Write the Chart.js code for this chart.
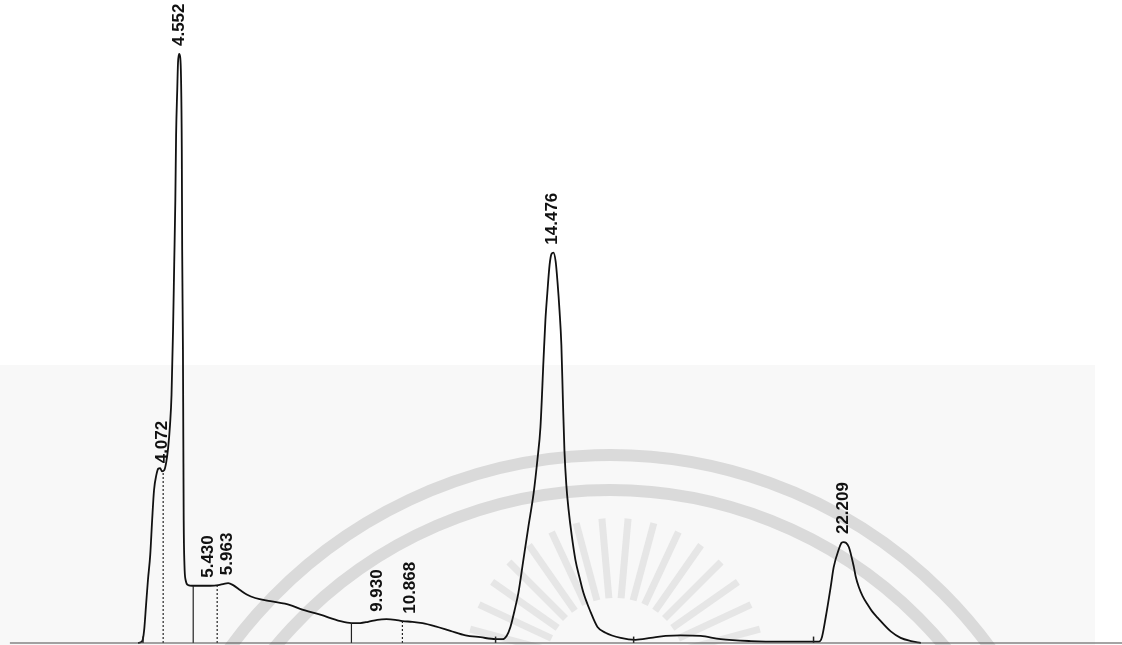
<!DOCTYPE html>
<html>
<head>
<meta charset="utf-8">
<title>Chromatogram</title>
<script src="https://cdn.jsdelivr.net/npm/chart.js@4.4.1/dist/chart.umd.min.js"></script>
<style>
  html, body { margin: 0; padding: 0; background: #fff; }
  #wrap { width: 1122px; height: 645px; position: relative; }
</style>
</head>
<body>
<div id="wrap"><canvas id="chromChart"></canvas></div>
<script>
// Retention time (min) and detector signal (% of full scale)
const traceTime = [
    3.63, 3.74, 3.79, 3.84, 3.89, 3.95, 4.00, 4.05, 4.11, 4.16,
    4.21, 4.26, 4.32, 4.37, 4.42, 4.47, 4.51, 4.55, 4.58, 4.61,
    4.63, 4.66, 4.68, 4.71, 4.74, 4.76, 4.78, 4.79, 4.81, 4.82,
    4.83, 4.85, 4.88, 4.95, 5.05, 5.26, 5.53, 5.74, 5.89, 6.00,
    6.13, 6.32, 6.50, 6.71, 7.11, 7.63, 7.89, 8.42, 8.95, 9.24,
    9.47, 9.68, 9.92, 10.16, 10.39, 10.58, 10.84, 11.11, 11.45, 11.84,
    12.24, 12.63, 13.03, 13.21, 13.32, 13.42, 13.53, 13.63, 13.76, 13.89,
    14.03, 14.13, 14.21, 14.29, 14.34, 14.39, 14.45, 14.50, 14.55, 14.61,
    14.66, 14.71, 14.76, 14.80, 14.84, 14.89, 14.95, 15.03, 15.13, 15.24,
    15.34, 15.53, 15.71, 15.92, 16.32, 16.71, 17.11, 17.50, 17.89, 18.42,
    18.95, 19.74, 20.53, 21.37, 21.53, 21.61, 21.71, 21.84, 21.92, 22.05,
    22.13, 22.18, 22.24, 22.32, 22.45, 22.50, 22.58, 22.68, 22.82, 22.92,
    23.08, 23.42, 23.68, 23.95, 24.21
];
const traceSignal = [
    0.0, 0.3, 2.0, 5.9, 9.8, 13.7, 19.1, 23.8, 26.1, 27.1,
    27.2, 26.7, 26.9, 28.1, 30.3, 33.9, 38.6, 48.7, 58.8, 68.9,
    79.0, 86.0, 90.2, 91.6, 91.0, 87.8, 76.7, 61.1, 45.6, 31.6,
    19.1, 12.1, 9.8, 9.0, 8.9, 8.9, 8.9, 9.0, 9.2, 9.3,
    9.0, 8.2, 7.5, 7.0, 6.5, 5.9, 5.3, 4.4, 3.4, 3.1,
    3.1, 3.3, 3.6, 3.7, 3.6, 3.4, 3.3, 3.1, 2.6, 1.9,
    1.2, 0.9, 0.6, 0.6, 1.1, 2.5, 5.1, 7.8, 12.9, 18.0,
    23.3, 28.5, 33.6, 44.0, 50.2, 54.4, 58.8, 60.5, 60.7, 59.3,
    56.0, 51.8, 46.3, 37.8, 30.0, 24.6, 20.7, 16.8, 12.9, 10.1,
    7.8, 4.8, 2.5, 1.6, 0.8, 0.5, 0.8, 1.1, 1.2, 1.1,
    0.6, 0.3, 0.2, 0.2, 0.2, 0.9, 4.0, 8.7, 11.8, 14.5,
    15.6, 15.7, 15.6, 14.9, 11.8, 10.3, 8.7, 7.3, 5.9, 5.0,
    3.9, 1.8, 0.8, 0.3, 0.0
];

// Peak labels printed by the integrator, where they stand and the signal under them
const peakLabels = ['4.072', '4.552', '5.430', '5.963', '9.930', '10.868', '14.476', '22.209'];
const labelTimes = [4.26, 4.71, 5.47, 5.97, 9.92, 10.79, 14.53, 22.18];
const labelSignal = [26.7, 91.6, 8.9, 9.3, 3.6, 3.3, 60.7, 15.7];

// Valley drop lines and baseline event ticks
const dropTimes = [4.29, 5.08, 5.71, 9.24, 10.58];
const dropTops = [26.9, 8.9, 8.9, 3.1, 3.4];
const dropDotted = [true, false, true, false, true];
const tickTimes = [3.76, 13.03, 16.66, 21.39];
const tickHeight = 1.0;

const baselineStart = 0.26;
const timeMax = 29.5;
const signalMax = 100;

// Faint scanned watermark behind the trace
const watermark = {
    id: 'watermark',
    beforeDatasetsDraw(chart) {
        const ctx = chart.ctx;
        ctx.save();
        ctx.fillStyle = '#f8f8f8';
        ctx.fillRect(0, 365, 1095, chart.height - 365);

        ctx.strokeStyle = '#dadada';
        ctx.lineWidth = 12;
        ctx.beginPath();
        ctx.arc(610, 926, 471, Math.PI * 1.11, Math.PI * 1.89);
        ctx.stroke();
        ctx.beginPath();
        ctx.arc(610, 926, 436, Math.PI * 1.12, Math.PI * 1.88);
        ctx.stroke();

        ctx.strokeStyle = '#e6e6e6';
        ctx.lineWidth = 7;
        for (let a = 195; a <= 345; a += 10) {
            const r = a * Math.PI / 180;
            ctx.beginPath();
            ctx.moveTo(615 + Math.cos(r) * 70, 668 + Math.sin(r) * 70);
            ctx.lineTo(615 + Math.cos(r) * 150, 668 + Math.sin(r) * 150);
            ctx.stroke();
        }
        ctx.restore();
    }
};

// Rotated retention-time labels above each peak
const peakText = {
    id: 'peakText',
    afterDatasetsDraw(chart) {
        const ctx = chart.ctx;
        const xs = chart.scales.x, ys = chart.scales.y;
        ctx.save();
        ctx.fillStyle = '#111';
        ctx.font = 'bold 17px "Liberation Sans", Arial, sans-serif';
        ctx.textAlign = 'left';
        ctx.textBaseline = 'middle';
        peakLabels.forEach((txt, i) => {
            const x = xs.getPixelForValue(labelTimes[i]);
            const y = ys.getPixelForValue(labelSignal[i]) - 8;
            ctx.save();
            ctx.translate(x, y);
            ctx.rotate(-Math.PI / 2);
            ctx.fillText(txt, 0, 0);
            ctx.restore();
        });
        ctx.restore();
    }
};

function buildDatasets() {
    const sets = [];
    sets.push({
        data: [{ x: baselineStart, y: 0 }, { x: timeMax, y: 0 }],
        borderColor: '#4a4a4a',
        borderWidth: 1.2
    });
    dropTimes.forEach((t, i) => {
        sets.push({
            data: [{ x: t, y: 0 }, { x: t, y: dropTops[i] }],
            borderColor: '#222',
            borderWidth: 1.2,
            borderDash: dropDotted[i] ? [2, 2] : []
        });
    });
    tickTimes.forEach(t => {
        sets.push({
            data: [{ x: t, y: 0 }, { x: t, y: tickHeight }],
            borderColor: '#222',
            borderWidth: 1.5
        });
    });
    sets.push({
        data: traceTime.map((t, i) => ({ x: t, y: traceSignal[i] })),
        borderColor: '#111',
        borderWidth: 1.8,
        cubicInterpolationMode: 'monotone'
    });
    return sets;
}

function renderChromatogram() {
    const ctx = document.getElementById('chromChart').getContext('2d');
    new Chart(ctx, {
        type: 'line',
        data: { datasets: buildDatasets() },
        options: {
            responsive: true,
            maintainAspectRatio: false,
            animation: false,
            clip: false,
            layout: { padding: { top: 0, bottom: 2, left: 0, right: 0 } },
            elements: { point: { radius: 0 }, line: { fill: false } },
            plugins: { legend: { display: false }, tooltip: { enabled: false } },
            scales: {
                x: { type: 'linear', display: false, min: 0, max: timeMax },
                y: { display: false, min: 0, max: signalMax }
            }
        },
        plugins: [watermark, peakText]
    });
}

window.onload = renderChromatogram;
</script>
</body>
</html>
